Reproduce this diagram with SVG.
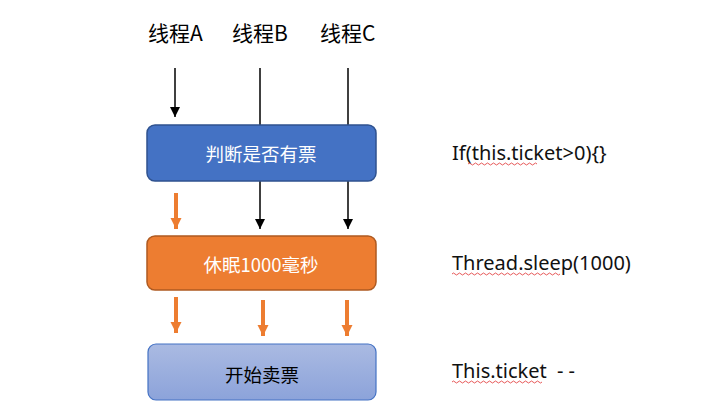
<svg xmlns="http://www.w3.org/2000/svg" width="707" height="418" viewBox="0 0 707 418">
<defs>
<linearGradient id="g3" x1="0" y1="0" x2="0" y2="1">
<stop offset="0" stop-color="#AABAE2"/>
<stop offset="1" stop-color="#8CA3DA"/>
</linearGradient>
<marker id="ah" viewBox="0 0 10 10" refX="10" refY="5" markerWidth="10" markerHeight="10" markerUnits="userSpaceOnUse" orient="auto">
<path d="M0,0 L10,5 L0,10 z" fill="#000"/>
</marker>
<marker id="oh" viewBox="0 0 10 10" refX="10" refY="5" markerWidth="11" markerHeight="12" markerUnits="userSpaceOnUse" orient="auto">
<path d="M0,0 L10,5 L0,10 z" fill="#ED7D31"/>
</marker>
</defs>
<style>
.t{font-family:"Noto Sans CJK SC","Noto Sans",sans-serif;font-size:21px;fill:#000}
.c{font-family:"Noto Sans","Liberation Sans",sans-serif;font-size:20px;fill:#111}
.bt{font-family:"Noto Sans CJK SC",sans-serif;font-size:18.5px;text-anchor:middle;dominant-baseline:central}
.bk{stroke:#000;stroke-width:1.5;fill:none}
.or{stroke:#ED7D31;stroke-width:4;fill:none}
.sq{stroke:#E03030;stroke-width:0.8;fill:none}
</style>
<rect width="707" height="418" fill="#fff"/>
<g id="labels">
<text class="t" x="148" y="41">线程A</text>
<text class="t" x="232" y="41">线程B</text>
<text class="t" x="320" y="41">线程C</text>
</g>
<g id="connectors">
<line class="bk" x1="175" y1="68" x2="175" y2="117" marker-end="url(#ah)"/>
<line class="bk" x1="260" y1="68" x2="260" y2="125"/>
<line class="bk" x1="348" y1="68" x2="348" y2="125"/>
<line class="bk" x1="260" y1="181" x2="260" y2="229" marker-end="url(#ah)"/>
<line class="bk" x1="348" y1="181" x2="348" y2="229" marker-end="url(#ah)"/>
<line class="or" x1="176" y1="193" x2="176" y2="229" marker-end="url(#oh)"/>
<line class="or" x1="176" y1="297" x2="176" y2="333" marker-end="url(#oh)"/>
<line class="or" x1="263" y1="300" x2="263" y2="336" marker-end="url(#oh)"/>
<line class="or" x1="347" y1="300" x2="347" y2="336" marker-end="url(#oh)"/>
</g>
<g id="node1">
<rect x="147" y="125" width="229" height="56" rx="8" fill="#4472C4" stroke="#2F528F" stroke-width="1.5"/>
<text class="bt" x="261" y="153" fill="#fff">判断是否有票</text>
</g>
<g id="node2">
<rect x="147" y="236" width="229" height="54" rx="8" fill="#ED7D31" stroke="#AE5A21" stroke-width="1.5"/>
<text class="bt" x="261" y="264" fill="#fff">休眠1000毫秒</text>
</g>
<g id="node3">
<rect x="148" y="344" width="228" height="56" rx="8" fill="url(#g3)" stroke="#4472C4" stroke-width="1.2"/>
<text class="bt" x="262" y="374" fill="#000">开始卖票</text>
</g>
<g id="code">
<text class="c" x="452" y="160">If(this.ticket&gt;0){}</text>
<text class="c" x="452" y="270">Thread.sleep(1000)</text>
<text class="c" x="452" y="378">This.ticket <tspan dx="5" letter-spacing="5">--</tspan></text>
<path class="sq" d="M468,164 q1.5,-2 3,0 t3,0 t3,0 t3,0 t3,0 t3,0 t3,0 t3,0 t3,0 t3,0 t3,0 t3,0 t3,0 t3,0 t3,0 t3,0 t3,0 t3,0 t3,0 t3,0 t3,0 t3,0 t3,0"/>
<path class="sq" d="M452,274 q1.5,-2 3,0 t3,0 t3,0 t3,0 t3,0 t3,0 t3,0 t3,0 t3,0 t3,0 t3,0 t3,0 t3,0 t3,0 t3,0 t3,0 t3,0 t3,0 t3,0 t3,0 t3,0 t3,0 t3,0 t3,0 t3,0 t3,0 t3,0 t3,0 t3,0 t3,0 t3,0 t3,0 t3,0 t3,0 t3,0 t3,0"/>
<path class="sq" d="M452,382 q1.5,-2 3,0 t3,0 t3,0 t3,0 t3,0 t3,0 t3,0 t3,0 t3,0 t3,0 t3,0 t3,0 t3,0 t3,0 t3,0 t3,0 t3,0 t3,0 t3,0 t3,0 t3,0 t3,0 t3,0 t3,0 t3,0 t3,0 t3,0 t3,0 t3,0 t3,0"/>
</g>
</svg>
